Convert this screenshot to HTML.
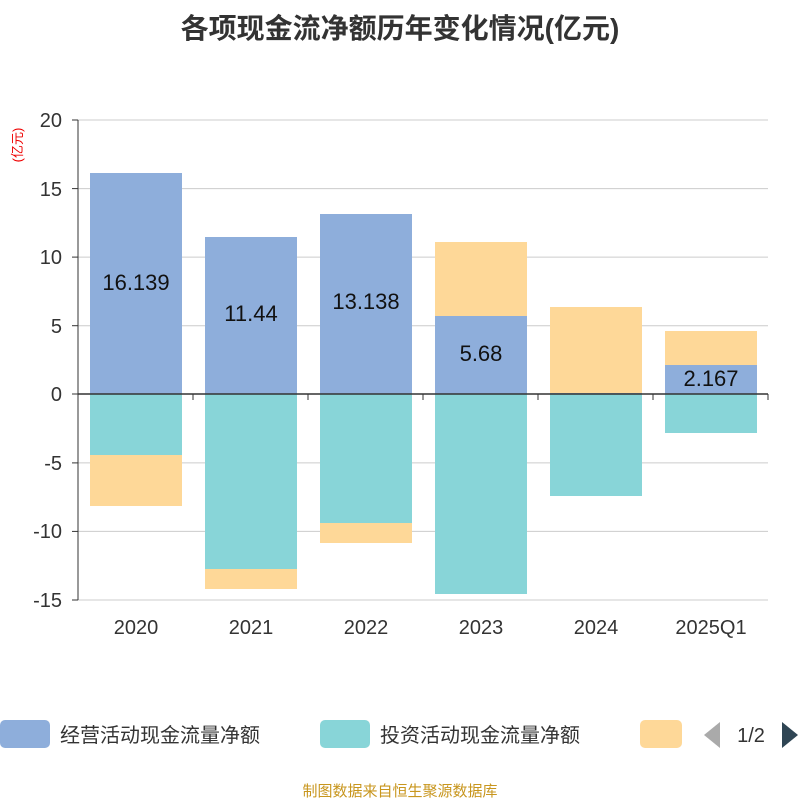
<!DOCTYPE html>
<html><head><meta charset="utf-8"><style>
body{margin:0;background:#fff;}
svg text{font-family:"Liberation Sans","Noto Sans CJK SC",sans-serif;}
</style></head><body>
<svg width="800" height="800" xmlns="http://www.w3.org/2000/svg">
<text x="400" y="38" text-anchor="middle" font-size="28" font-weight="bold" fill="#333">各项现金流净额历年变化情况(亿元)</text>
<text x="22" y="145" font-size="13" fill="#e00" text-anchor="middle" transform="rotate(-90 22 145)">(亿元)</text>
<g stroke="#ccc" stroke-width="1">
<line x1="78" x2="768" y1="120" y2="120"/>
<line x1="78" x2="768" y1="188.6" y2="188.6"/>
<line x1="78" x2="768" y1="257.1" y2="257.1"/>
<line x1="78" x2="768" y1="325.7" y2="325.7"/>
<line x1="78" x2="768" y1="462.9" y2="462.9"/>
<line x1="78" x2="768" y1="531.4" y2="531.4"/>
<line x1="78" x2="768" y1="600" y2="600"/>
</g>
<g font-size="20" fill="#333" text-anchor="end">
<text x="62" y="127">20</text><text x="62" y="196">15</text><text x="62" y="264">10</text>
<text x="62" y="333">5</text><text x="62" y="401">0</text><text x="62" y="470">-5</text>
<text x="62" y="538">-10</text><text x="62" y="607">-15</text>
</g>
<g>
<rect x="90" y="173" width="92" height="221" fill="#8eaedb"/>
<rect x="90" y="394" width="92" height="61" fill="#88d5d8"/>
<rect x="90" y="455" width="92" height="51" fill="#fed898"/>
<rect x="205" y="237" width="92" height="157" fill="#8eaedb"/>
<rect x="205" y="394" width="92" height="175" fill="#88d5d8"/>
<rect x="205" y="569" width="92" height="20" fill="#fed898"/>
<rect x="320" y="214" width="92" height="180" fill="#8eaedb"/>
<rect x="320" y="394" width="92" height="129" fill="#88d5d8"/>
<rect x="320" y="523" width="92" height="20" fill="#fed898"/>
<rect x="435" y="242" width="92" height="74" fill="#fed898"/>
<rect x="435" y="316" width="92" height="78" fill="#8eaedb"/>
<rect x="435" y="394" width="92" height="200" fill="#88d5d8"/>
<rect x="550" y="307" width="92" height="86" fill="#fed898"/>
<rect x="550" y="393" width="92" height="1" fill="#8eaedb"/>
<rect x="550" y="394" width="92" height="102" fill="#88d5d8"/>
<rect x="665" y="331" width="92" height="34" fill="#fed898"/>
<rect x="665" y="365" width="92" height="29" fill="#8eaedb"/>
<rect x="665" y="394" width="92" height="39" fill="#88d5d8"/>
</g>
<line x1="78" x2="768" y1="394" y2="394" stroke="#333" stroke-width="1.5"/>
<line x1="78" x2="78" y1="120" y2="600" stroke="#333" stroke-width="1"/>
<g stroke="#333"><line x1="78" x2="72" y1="120" y2="120"/><line x1="78" x2="72" y1="188.6" y2="188.6"/><line x1="78" x2="72" y1="257.1" y2="257.1"/><line x1="78" x2="72" y1="325.7" y2="325.7"/><line x1="78" x2="72" y1="394" y2="394"/><line x1="78" x2="72" y1="462.9" y2="462.9"/><line x1="78" x2="72" y1="531.4" y2="531.4"/><line x1="78" x2="72" y1="600" y2="600"/>
<line x1="193" x2="193" y1="394" y2="400"/><line x1="308" x2="308" y1="394" y2="400"/><line x1="423" x2="423" y1="394" y2="400"/><line x1="538" x2="538" y1="394" y2="400"/><line x1="653" x2="653" y1="394" y2="400"/><line x1="768" x2="768" y1="394" y2="400"/></g>
<g font-size="22" fill="#111" text-anchor="middle">
<text x="136" y="290">16.139</text><text x="251" y="321">11.44</text><text x="366" y="309">13.138</text>
<text x="481" y="361">5.68</text><text x="711" y="386">2.167</text>
</g>
<g font-size="20" fill="#333" text-anchor="middle">
<text x="136" y="634">2020</text><text x="251" y="634">2021</text><text x="366" y="634">2022</text>
<text x="481" y="634">2023</text><text x="596" y="634">2024</text><text x="711" y="634">2025Q1</text>
</g>
<rect x="0" y="720" width="50" height="28" rx="5" fill="#8eaedb"/>
<text x="60" y="742" font-size="20" fill="#333">经营活动现金流量净额</text>
<rect x="320" y="720" width="50" height="28" rx="5" fill="#88d5d8"/>
<text x="380" y="742" font-size="20" fill="#333">投资活动现金流量净额</text>
<rect x="640" y="720" width="42" height="28" rx="5" fill="#fed898"/>
<polygon points="720,722 720,748 704,735" fill="#aaa"/>
<text x="751" y="742" font-size="20" fill="#333" text-anchor="middle">1/2</text>
<polygon points="782,722 782,748 798,735" fill="#2f4554"/>
<text x="400" y="796" font-size="15" fill="#c8961e" text-anchor="middle">制图数据来自恒生聚源数据库</text>
</svg>
</body></html>
